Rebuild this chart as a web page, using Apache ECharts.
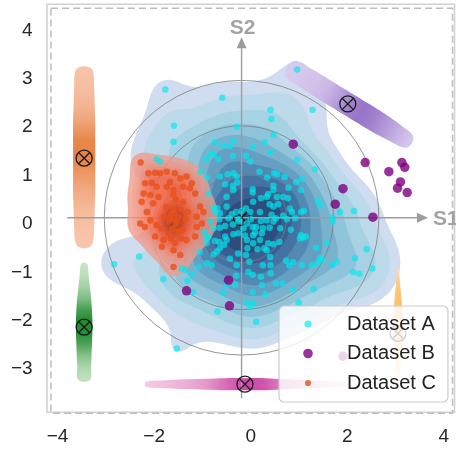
<!DOCTYPE html>
<html>
<head>
<meta charset="utf-8">
<script src="https://cdn.jsdelivr.net/npm/echarts/dist/echarts.min.js"></script>
<style>
  html, body { margin: 0; padding: 0; background: #ffffff; }
  #chart { width: 456px; height: 451px; }
</style>
</head>
<body>
<div id="chart"></div>
<script>
// ---------------- data ----------------
const datasetA = [
  [-1.77,2.78],[-0.59,2.61],[-1.59,2.03],[-1.60,1.70],[-1.95,1.34],[-1.88,1.29],[-0.29,2.01],[-0.74,1.69],
  [-0.57,1.62],[-0.44,1.60],[-0.36,1.71],[-0.83,1.45],[-0.77,1.43],[-0.93,1.34],[-0.67,1.34],[-0.37,1.41],
  [-1.04,1.08],[-0.91,0.96],[-0.64,0.98],[-0.48,1.03],[-0.36,1.05],[-0.29,0.98],[-0.53,0.82],[-0.37,0.79],
  [-0.28,0.86],[-0.88,0.63],[-0.50,0.56],[-0.36,0.70],[-0.77,0.34],[-0.69,0.32],[-0.50,0.36],[-0.74,0.25],
  [-0.64,0.22],[-0.39,0.20],[-0.30,0.25],[-0.84,0.05],[-0.65,0.10],[-0.46,0.12],[-0.77,-0.09],[-0.64,-0.08],
  [-0.53,-0.04],[-0.37,-0.01],[-0.26,0.05],[-0.97,-0.16],[-0.93,-0.28],[-0.88,-0.26],[-0.91,-0.39],[-0.74,-0.35],
  [-0.65,-0.37],[-0.50,-0.33],[-0.55,-0.43],[-0.36,-0.21],[-0.26,-0.19],[-1.06,-0.58],[-0.70,-0.57],[-0.77,-0.63],
  [-0.43,-0.72],[-0.29,-0.85],[-0.91,-0.81],[-0.81,-0.85],[-1.08,-0.89],[-1.43,-0.92],[-1.36,-0.95],[-1.22,-1.05],
  [-1.81,-1.14],[-2.31,-0.67],[-2.83,-0.83],[-1.31,-1.18],[-0.57,-1.41],[-0.50,-1.26],[-0.30,-1.07],[-0.33,-1.26],
  [-1.20,-1.41],[-0.69,-1.81],[-1.53,-2.57],
  [0.96,3.19],[1.28,2.36],[0.41,2.36],[0.43,2.17],[0.47,1.84],[0.28,1.69],[0.05,1.59],[0.40,1.49],
  [-0.10,1.41],[-0.01,1.29],[0.96,1.32],[1.33,1.13],[0.18,1.08],[0.34,0.96],[0.48,1.05],[0.55,1.03],
  [0.70,0.97],[0.94,0.87],[1.06,0.93],[1.04,0.70],[0.47,0.79],[0.47,0.70],[0.78,0.75],[0.04,0.72],
  [0.04,0.65],[0.21,0.53],[0.05,0.46],[0.33,0.56],[0.54,0.56],[0.67,0.56],[0.77,0.53],[0.39,0.41],
  [0.57,0.41],[0.81,0.32],[0.85,0.25],[1.04,0.25],[1.10,0.27],[1.39,0.48],[1.43,0.38],[-0.10,0.32],
  [-0.01,0.25],[0.19,0.25],[0.43,0.19],[0.52,0.12],[0.67,0.17],[0.75,0.10],[0.92,0.12],[0.21,0.06],
  [0.33,0.08],[0.47,0.05],[-0.08,0.01],[0.04,-0.06],[-0.15,-0.09],[0.25,-0.09],[0.39,-0.08],[0.61,-0.09],
  [0.83,-0.12],[1.70,0.13],[1.70,0.05],[2.14,0.27],[1.85,0.25],[1.04,-0.23],[1.09,-0.28],[1.14,-0.26],
  [1.02,-0.30],[-0.12,-0.24],[-0.08,-0.33],[0.05,-0.23],[0.19,-0.33],[0.36,-0.40],[0.47,-0.42],[0.59,-0.37],
  [-0.07,-0.50],[0.14,-0.52],[0.28,-0.50],[-0.10,-0.64],[-0.03,-0.78],[1.35,-0.49],[1.57,-0.39],[2.40,-0.52],
  [0.73,-0.76],[0.80,-0.86],[0.88,-0.79],[1.06,-0.85],[1.26,-0.85],[1.38,-0.81],[1.43,-0.71],[1.47,-0.74],
  [1.70,-0.85],[1.78,-0.78],[2.16,-0.71],[2.52,-0.92],[2.12,-0.99],[2.25,-1.03],[0.25,-0.85],[0.41,-0.85],
  [-0.05,-0.99],[0.04,-1.05],[0.21,-1.09],[0.41,-1.02],[0.52,-1.23],[0.66,-1.23],[0.23,-1.26],[0.30,-1.45],
  [0.88,-1.36],[1.30,-1.35],[0.04,-1.41],[-0.08,-1.61],[-0.01,-1.71],[0.05,-1.64],[0.99,-1.62],[0.11,-2.02],
  [-0.19,0.27],[-0.24,0.10],[0.00,0.10],[0.11,-0.06],[0.09,-0.18],[0.23,-0.19],[-0.26,-0.61],[-0.53,-0.26],
  [-0.64,-0.50],[0.05,-0.40],[0.33,-0.54],[0.40,-0.68],[0.47,0.36],[0.36,0.62]
];
const datasetB = [
  [0.88,1.65],[2.37,1.27],[2.86,1.08],[3.13,1.27],[3.19,1.17],[3.10,0.87],[3.04,0.74],[3.24,0.65],
  [1.91,0.73],[1.75,0.41],[2.53,0.14],[-1.33,-1.38],[-0.46,-1.16],[-0.44,-1.69],[1.91,-2.73]
];
const datasetC = [
  [-2.28,1.27],[-1.60,-0.89],[-2.12,1.05],[-2.05,0.85],[-2.19,0.84],[-1.98,1.06],[-1.88,1.05],[-1.74,1.08],
  [-1.57,1.05],[-1.67,0.87],[-1.46,0.94],[-1.33,0.98],[-1.22,0.84],[-1.95,0.77],[-1.74,0.77],[-1.60,0.70],
  [-1.40,0.77],[-1.26,0.74],[-1.15,0.63],[-2.22,0.63],[-2.08,0.60],[-1.91,0.56],[-2.26,0.46],[-2.02,0.43],
  [-1.05,0.36],[-0.98,0.25],[-1.12,0.15],[-2.15,0.25],[-2.08,0.08],[-2.29,0.01],[-2.19,-0.06],[-1.95,-0.02],
  [-1.98,-0.26],[-1.81,-0.33],[-1.57,-0.40],[-1.33,-0.33],[-1.15,-0.26],[-1.40,-0.12],[-1.60,-0.54],[-1.46,-0.64],
  [-1.84,-0.47],[-1.01,0.01],[-1.12,-0.06],
  [-1.60,0.10],[-1.65,0.20],[-1.55,0.00],[-1.70,0.05],[-1.50,0.15],[-1.60,0.30],[-1.62,-0.10],[-1.70,-0.20],
  [-1.45,0.30],[-1.75,0.35],[-1.50,-0.15],[-1.40,0.45],[-1.80,0.15],[-1.55,0.50],[-1.65,-0.30],[-1.35,0.10],
  [-1.85,-0.10],[-1.30,0.25],[-1.60,0.60],[-1.45,-0.30],[-1.68,0.12],[-1.58,0.22],[-1.52,0.05]
];

// rotated source frame (S1, S2) and its reference rings
const sOrigin = [-0.19, 0.13];
const s1Extent = [-3.80, 3.67];
const s2Extent = [-3.60, 3.86];
const ringRadii = [0.93, 1.90, 2.84];

// projected 1-D densities drawn as shaded strips, with their means
const stripCenter = [[-3.45, 1.36], [-3.45, -2.13], [2.01, 2.48], [-0.12, -3.31], [3.05, -2.26]];
const stripDir = [[0, 1], [0, 1], [0.852, -0.523], [1, 0], [0, 1]];
const stripBack = [1.79, 1.07, 1.39, 2.05, 0.92];
const stripFront = [1.82, 1.30, 1.49, 2.07, 1.35];
const stripHalfWidth = [0.23, 0.17, 0.23, 0.125, 0.10];
const stripLight = ['#fcd5c6', '#dcefd8', '#e6dcf6', '#fadbe9', '#fff1de'];
const stripDark = ['#e57a34', '#1f8a2e', '#8a62c0', '#cc47a8', '#ffb24a'];
const stripIntensity = [
  [0.18, 0.22, 0.30, 0.45, 0.65, 0.90, 0.85, 0.55, 0.35, 0.25, 0.20],
  [0.15, 0.25, 0.45, 0.75, 0.95, 1.00, 0.80, 0.50, 0.30, 0.18, 0.10],
  [0.15, 0.18, 0.22, 0.30, 0.50, 0.75, 0.85, 0.75, 0.55, 0.35, 0.18],
  [0.10, 0.20, 0.30, 0.45, 0.75, 1.00, 0.90, 0.55, 0.30, 0.15, 0.05],
  [0.20, 0.30, 0.45, 0.55, 0.60, 0.65, 0.70, 0.75, 0.70, 0.55, 0.35]
];
const stripWidth = [
  [0.70, 0.90, 0.95, 1.00, 1.00, 1.00, 1.00, 1.00, 0.95, 0.90, 0.75],
  [0.80, 0.85, 0.90, 0.95, 1.00, 1.00, 0.95, 0.85, 0.70, 0.55, 0.40],
  [0.85, 0.95, 1.00, 1.00, 1.00, 1.00, 1.00, 1.00, 0.95, 0.85, 0.65],
  [0.45, 0.65, 0.80, 0.90, 1.00, 1.00, 1.00, 0.85, 0.70, 0.55, 0.40],
  [0.15, 0.45, 0.75, 0.95, 1.00, 1.00, 0.90, 0.75, 0.55, 0.35, 0.15]
];

// plot frame extent (data units)
const frameX = [-4.22, 4.22];
const frameY = [-3.89, 4.54];

// density levels (fraction of peak) and fills
const levelsA = [0.025, 0.05, 0.10, 0.17, 0.25, 0.34, 0.44, 0.55, 0.67, 0.80];
const fillsA = ['#d0dcef', '#bcdaea', '#a7d2e3', '#90c4da', '#7ab2ce', '#659fc2', '#5289b3', '#4473a3', '#385f90', '#2d4d7d'];
const levelsC = [0.06, 0.13, 0.20, 0.27, 0.34, 0.41, 0.48, 0.55, 0.62, 0.70, 0.78, 0.86, 0.93];
const fillsC = ['rgba(240,155,140,0.78)', 'rgba(242,120,95,0.14)', 'rgba(242,110,85,0.14)', 'rgba(244,100,70,0.16)',
  'rgba(245,90,60,0.16)', 'rgba(245,85,45,0.2)', 'rgba(240,80,40,0.2)', 'rgba(230,75,35,0.24)',
  'rgba(215,70,35,0.26)', 'rgba(190,65,40,0.30)', 'rgba(165,60,45,0.33)', 'rgba(145,58,48,0.38)', 'rgba(130,55,50,0.42)'];

const FONT = "'Liberation Sans', Arial, sans-serif";

// ---------------- kernel density helpers ----------------
function gaussianKde(pts, h) {
  const k = 1 / (2 * h * h);
  return function (x, y) {
    let s = 0;
    for (let i = 0; i < pts.length; i++) {
      const dx = x - pts[i][0], dy = y - pts[i][1];
      s += Math.exp(-(dx * dx + dy * dy) * k);
    }
    return s;
  };
}
function densityPeak(f, pts) {
  let best = -1, bx = 0, by = 0;
  const xs = pts.map(p => p[0]), ys = pts.map(p => p[1]);
  const x0 = Math.min(...xs), x1 = Math.max(...xs), y0 = Math.min(...ys), y1 = Math.max(...ys);
  for (let x = x0; x <= x1; x += 0.03) {
    for (let y = y0; y <= y1; y += 0.03) {
      const v = f(x, y);
      if (v > best) { best = v; bx = x; by = y; }
    }
  }
  return { x: bx, y: by, v: best };
}
function levelOutlines(f, pk, levels, rMax) {
  const NA = 240, dr = 0.015;
  const out = levels.map(() => []);
  for (let a = 0; a < NA; a++) {
    const th = 2 * Math.PI * a / NA, ux = Math.cos(th), uy = Math.sin(th);
    const hit = levels.map(() => null);
    let left = levels.length, prevR = 0, prevV = 1;
    for (let r = dr; r <= rMax && left > 0; r += dr) {
      const v = f(pk.x + ux * r, pk.y + uy * r) / pk.v;
      for (let i = 0; i < levels.length; i++) {
        if (hit[i] === null && v < levels[i]) {
          hit[i] = prevR + dr * (prevV - levels[i]) / (prevV - v);
          left--;
        }
      }
      prevR = r; prevV = v;
    }
    for (let i = 0; i < levels.length; i++) {
      const rr = hit[i] === null ? rMax : hit[i];
      out[i].push([pk.x + ux * rr, pk.y + uy * rr]);
    }
  }
  return out;
}

const kdeA = gaussianKde(datasetA, 0.45);
const peakA = densityPeak(kdeA, datasetA);
const outlinesA = levelOutlines(kdeA, peakA, levelsA, 4.5);
const kdeC = gaussianKde(datasetC, 0.20);
const peakC = densityPeak(kdeC, datasetC);
const outlinesC = levelOutlines(kdeC, peakC, levelsC, 2.0);

// ---------------- chart ----------------
function tickText(v, step) {
  const r = Math.round(v);
  if (Math.abs(v - r) > 1e-6 || r % step !== 0) return '';
  return r < 0 ? '\u2212' + (-r) : String(r);
}
function mixHex(a, b, t) {
  const pa = [1, 3, 5].map(i => parseInt(a.substr(i, 2), 16));
  const pb = [1, 3, 5].map(i => parseInt(b.substr(i, 2), 16));
  const c = pa.map((v, i) => Math.round(v + (pb[i] - v) * t));
  return 'rgb(' + c.join(',') + ')';
}
// legend marker: a dot of radius r placed 17px into a 51x10 slot
function legendDot(r) {
  return 'path://M0,0L0.01,0M51,10L50.99,10M' + (17 - r) + ',5A' + r + ',' + r + ',0,1,0,' + (17 + r) + ',5A' + r + ',' + r + ',0,1,0,' + (17 - r) + ',5Z';
}

function outlineSeries(outlines, fills) {
  return {
    type: 'custom', coordinateSystem: 'cartesian2d', silent: true,
    data: outlines.map((o, i) => [0, 0, i]),
    encode: { x: 0, y: 1 },
    renderItem: function (params, api) {
      const i = params.dataIndex;
      return {
        type: 'polygon',
        shape: { points: outlines[i].map(p => api.coord(p)), smooth: 0.2 },
        style: { fill: fills[i], stroke: null }
      };
    }
  };
}

function crossMark(api, color) {
  const c = api.coord([api.value(0), api.value(1)]);
  const r = 8, d = r * 0.7071;
  const st = { stroke: color, lineWidth: 1.3, fill: null };
  return {
    type: 'group', children: [
      { type: 'circle', shape: { cx: c[0], cy: c[1], r: r }, style: st },
      { type: 'line', shape: { x1: c[0] - d, y1: c[1] - d, x2: c[0] + d, y2: c[1] + d }, style: st },
      { type: 'line', shape: { x1: c[0] - d, y1: c[1] + d, x2: c[0] + d, y2: c[1] - d }, style: st }
    ]
  };
}

const chart = echarts.init(document.getElementById('chart'), null, { renderer: 'canvas' });

const option = {
  animation: false,
  backgroundColor: '#ffffff',
  grid: { left: 57.6, right: 12.1, top: 30.4, bottom: 81.8, containLabel: false },
  xAxis: {
    type: 'value', min: -4, max: 4, interval: 2,
    axisLine: { show: false }, axisTick: { show: false }, splitLine: { show: false },
    axisLabel: { fontSize: 19, color: '#262626', fontFamily: FONT, margin: 58, formatter: v => tickText(v, 2) }
  },
  yAxis: {
    type: 'value', min: -3, max: 4, interval: 1,
    axisLine: { show: false }, axisTick: { show: false }, splitLine: { show: false },
    axisLabel: { fontSize: 19, color: '#262626', fontFamily: FONT, margin: 25, formatter: v => tickText(v, 1) }
  },
  legend: {
    left: 279, top: 306, orient: 'vertical',
    padding: [7, 12, 8, 12], itemGap: 7.5, itemWidth: 51, itemHeight: 10,
    backgroundColor: 'rgba(255,255,255,0.8)', borderColor: '#cccccc', borderWidth: 1.2, borderRadius: 5,
    textStyle: { fontSize: 20, color: '#222222', fontFamily: FONT, lineHeight: 22 },
    data: [
      { name: 'Dataset A', icon: legendDot(3.6) },
      { name: 'Dataset B', icon: legendDot(4.8) },
      { name: 'Dataset C', icon: legendDot(3.1) }
    ]
  },
  series: [
    // frame
    {
      type: 'custom', coordinateSystem: 'cartesian2d', silent: true,
      data: [[frameX[0], frameY[1], frameX[1], frameY[0]]],
      encode: { x: [0, 2], y: [1, 3] },
      renderItem: function (params, api) {
        const a = api.coord([api.value(0), api.value(1)]);
        const b = api.coord([api.value(2), api.value(3)]);
        return {
          type: 'group', children: [
            { type: 'rect', shape: { x: a[0], y: a[1], width: b[0] - a[0], height: b[1] - a[1] },
              style: { fill: null, stroke: '#d2d2d2', lineWidth: 1.6 } },
            { type: 'rect', shape: { x: a[0] + 4, y: a[1] + 4, width: b[0] - a[0] - 6, height: b[1] - a[1] - 3 },
              style: { fill: null, stroke: '#bdbdbd', lineWidth: 1.5, lineDash: [7, 4] } }
          ]
        };
      }
    },
    // density of dataset A
    outlineSeries(outlinesA, fillsA),
    // rings
    {
      type: 'custom', coordinateSystem: 'cartesian2d', silent: true,
      data: ringRadii.map(r => [sOrigin[0], sOrigin[1], r]),
      encode: { x: 0, y: 1 },
      renderItem: function (params, api) {
        const c = api.coord([api.value(0), api.value(1)]);
        const s = api.size([api.value(2), api.value(2)]);
        return { type: 'circle', shape: { cx: c[0], cy: c[1], r: (s[0] + s[1]) / 2 },
          style: { fill: null, stroke: '#7c7c7c', lineWidth: 0.8 } };
      }
    },
    // projection strips
    {
      type: 'custom', coordinateSystem: 'cartesian2d', silent: true,
      data: stripCenter.map((c, i) => [c[0], c[1], i]),
      encode: { x: 0, y: 1 },
      renderItem: function (params, api) {
        const i = params.dataIndex;
        const c = stripCenter[i], u = stripDir[i], n = [-u[1], u[0]];
        const back = stripBack[i], front = stripFront[i], hw = stripHalfWidth[i];
        const prof = stripWidth[i], inten = stripIntensity[i];
        const K = prof.length, L = back + front;
        const sideA = [], sideB = [];
        for (let k = 0; k < K; k++) {
          const s = -back + L * k / (K - 1), w = hw * prof[k];
          const px = c[0] + u[0] * s, py = c[1] + u[1] * s;
          sideA.push(api.coord([px + n[0] * w, py + n[1] * w]));
          sideB.push(api.coord([px - n[0] * w, py - n[1] * w]));
        }
        const capF = hw * prof[K - 1] * 0.45, capB = hw * prof[0] * 0.45;
        const tipF = api.coord([c[0] + u[0] * (front + capF), c[1] + u[1] * (front + capF)]);
        const tipB = api.coord([c[0] - u[0] * (back + capB), c[1] - u[1] * (back + capB)]);
        const pts = sideA.concat([tipF], sideB.reverse(), [tipB]);
        const g0 = api.coord([c[0] - u[0] * back, c[1] - u[1] * back]);
        const g1 = api.coord([c[0] + u[0] * front, c[1] + u[1] * front]);
        const stops = inten.map((t, k) => ({ offset: k / (K - 1), color: mixHex(stripLight[i], stripDark[i], t) }));
        return {
          type: 'polygon', shape: { points: pts, smooth: 0.35 },
          style: { fill: new echarts.graphic.LinearGradient(g0[0], g0[1], g1[0], g1[1], stops, true), stroke: null }
        };
      }
    },
    // S1 / S2 axes
    {
      type: 'custom', coordinateSystem: 'cartesian2d', silent: true,
      data: [[sOrigin[0], sOrigin[1]]],
      encode: { x: 0, y: 1 },
      renderItem: function (params, api) {
        const col = '#9d9d9d';
        const h0 = api.coord([s1Extent[0], sOrigin[1]]), h1 = api.coord([s1Extent[1], sOrigin[1]]);
        const v0 = api.coord([sOrigin[0], s2Extent[0]]), v1 = api.coord([sOrigin[0], s2Extent[1]]);
        const al = 11, aw = 5;
        return {
          type: 'group', children: [
            { type: 'line', shape: { x1: h0[0], y1: h0[1], x2: h1[0] - al + 1, y2: h1[1] }, style: { stroke: col, lineWidth: 1.4 } },
            { type: 'line', shape: { x1: v0[0], y1: v0[1], x2: v1[0], y2: v1[1] + al - 1 }, style: { stroke: col, lineWidth: 1.4 } },
            { type: 'polygon', shape: { points: [[h1[0], h1[1]], [h1[0] - al, h1[1] - aw], [h1[0] - al, h1[1] + aw]] }, style: { fill: col } },
            { type: 'polygon', shape: { points: [[v1[0], v1[1]], [v1[0] - aw, v1[1] + al], [v1[0] + aw, v1[1] + al]] }, style: { fill: col } },
            { type: 'text', style: { text: 'S1', x: h1[0] + 5, y: h1[1] + 1, fill: '#a3a3a3', font: 'bold 21px ' + FONT, textAlign: 'left', textVerticalAlign: 'middle' } },
            { type: 'text', style: { text: 'S2', x: v1[0] + 1, y: v1[1] - 9, fill: '#a3a3a3', font: 'bold 21px ' + FONT, textAlign: 'center', textVerticalAlign: 'middle' } }
          ]
        };
      }
    },
    // dataset C points, then its density on top
    {
      type: 'scatter', name: 'Dataset C', data: datasetC, symbolSize: 6.5, silent: true,
      itemStyle: { color: '#e8501c' }
    },
    outlineSeries(outlinesC, fillsC),
    // mean of the source frame
    {
      type: 'custom', coordinateSystem: 'cartesian2d', silent: true,
      data: [[sOrigin[0], sOrigin[1]]], encode: { x: 0, y: 1 },
      renderItem: (params, api) => crossMark(api, '#1a1a1a')
    },
    {
      type: 'scatter', name: 'Dataset A', data: datasetA, symbolSize: 6.5, silent: true,
      itemStyle: { color: 'rgba(0,232,238,0.82)' }
    },
    {
      type: 'scatter', name: 'Dataset B', data: datasetB, symbolSize: 9.5, silent: true,
      itemStyle: { color: '#800080' }
    },
    // strip means
    {
      type: 'custom', coordinateSystem: 'cartesian2d', silent: true,
      data: stripCenter.map(c => [c[0], c[1]]), encode: { x: 0, y: 1 },
      renderItem: (params, api) => crossMark(api, '#1a1a1a')
    }
  ]
};

chart.setOption(option);
</script>
</body>
</html>
